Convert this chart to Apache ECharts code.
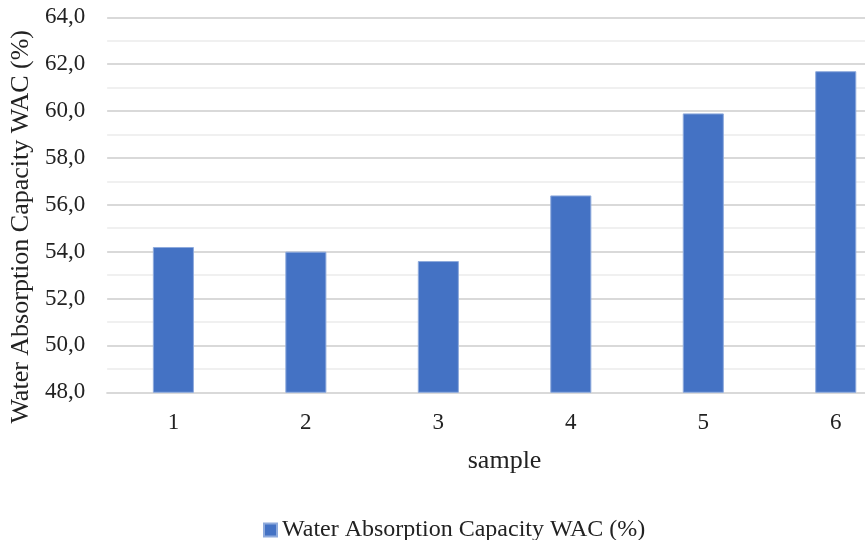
<!DOCTYPE html>
<html>
<head>
<meta charset="utf-8">
<script src="https://cdn.jsdelivr.net/npm/echarts@6/dist/echarts.min.js"></script>
<style>
  html, body { margin: 0; padding: 0; background: #fff; overflow: hidden; width: 865px; height: 540px; }
  /* the plot area runs past the right edge of the page */
  #chart { width: 902px; height: 540px; }
</style>
</head>
<body>
<div id="chart"></div>
<script>
// Water absorption capacity per sample
const samples = ['1', '2', '3', '4', '5', '6'];
const wacValues = [54.2, 54.0, 53.6, 56.4, 59.9, 61.7];
const seriesName = 'Water Absorption Capacity WAC (%)';
const yMin = 48, yMax = 64, yStep = 2;

const font = '"Liberation Serif", "Times New Roman", serif';
const fmt = v => v.toFixed(1).replace('.', ',');

const chart = echarts.init(document.getElementById('chart'), null, { renderer: 'canvas' });
chart.setOption({
  animation: false,
  backgroundColor: '#ffffff',
  textStyle: { fontFamily: font },
  grid: { left: 106, top: 17.3, right: 0, bottom: 147.7, containLabel: false },
  legend: {
    data: [seriesName],
    left: 258, bottom: -7,
    icon: 'rect', itemWidth: 13, itemHeight: 13, itemGap: 4,
    textStyle: { fontFamily: font, fontSize: 24, color: '#222' }
  },
  xAxis: {
    type: 'category',
    data: samples,
    name: 'sample',
    nameLocation: 'middle',
    nameGap: 56,
    nameTextStyle: { fontFamily: font, fontSize: 26, color: '#222' },
    axisLine: { lineStyle: { color: '#d9d9d9', width: 2 } },
    axisTick: { show: false },
    axisLabel: { fontFamily: font, fontSize: 23, color: '#222', margin: 19 }
  },
  yAxis: {
    type: 'value',
    min: yMin, max: yMax, interval: yStep,
    name: seriesName,
    nameLocation: 'middle',
    nameGap: 68,
    nameTextStyle: { fontFamily: font, fontSize: 26, color: '#222', padding: [0, 44, 0, 0] },
    axisLine: { show: false },
    axisTick: { show: false },
    axisLabel: { fontFamily: font, fontSize: 23, color: '#222', margin: 22, formatter: fmt },
    splitLine: { lineStyle: { color: '#d9d9d9', width: 2 } },
    minorTick: { show: false, splitNumber: 2 },
    minorSplitLine: { show: true, lineStyle: { color: '#f0f0f0', width: 2 } }
  },
  series: [{
    name: seriesName,
    type: 'bar',
    data: wacValues,
    barWidth: '31%',
    itemStyle: { color: '#4472C4', borderColor: '#8eaadc', borderWidth: 1 }
  }]
});
</script>
</body>
</html>
